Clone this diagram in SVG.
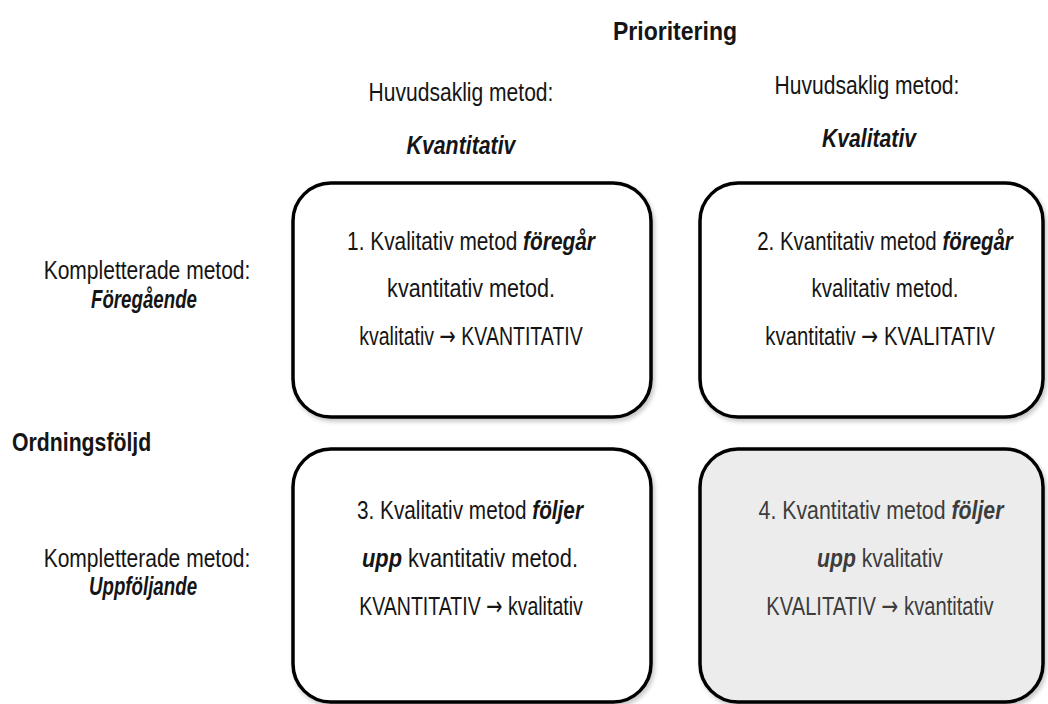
<svg xmlns="http://www.w3.org/2000/svg" width="1048" height="704" viewBox="0 0 1048 704">
  <defs>
    <filter id="shadow" x="-5%" y="-5%" width="112%" height="115%">
      <feDropShadow dx="2" dy="3" stdDeviation="2" flood-color="#000" flood-opacity="0.22"/>
    </filter>
  </defs>
  <style>
    /* condensed look: Arial-metric face narrowed per line with a horizontal scale */
    text { font-family: "Liberation Sans", Arial, sans-serif; font-size: 26px; fill: #151515; }
    .mid { text-anchor: middle; }
    .head { font-weight: bold; }
    .em { font-weight: bold; font-style: italic; }
    .arr { font-family: "DejaVu Sans", sans-serif; font-weight: normal; font-style: normal; }
    .box { fill: #fff; stroke: #000; stroke-width: 3.5; filter: url(#shadow); }
    .box.shaded { fill: #ececec; }
    .grey { fill: #3c3c3c; }
  </style>

  <rect width="1048" height="704" fill="#fff"/>

  <!-- axis headings -->
  <g id="axis-labels">
    <text class="head mid" transform="translate(675 39.5) scale(0.885 1)">Prioritering</text>
    <text class="head" transform="translate(12 450.5) scale(0.817 1)">Ordningsföljd</text>
  </g>

  <!-- column headings -->
  <g id="col-kvantitativ">
    <text class="mid" transform="translate(461 100.5) scale(0.81 1)">Huvudsaklig metod:</text>
    <text class="em mid" transform="translate(461 153.5) scale(0.82 1)">Kvantitativ</text>
  </g>
  <g id="col-kvalitativ">
    <text class="mid" transform="translate(867 93.5) scale(0.81 1)">Huvudsaklig metod:</text>
    <text class="em mid" transform="translate(869 146.5) scale(0.814 1)">Kvalitativ</text>
  </g>

  <!-- row headings -->
  <g id="row-foregaende">
    <text class="mid" transform="translate(147 278.5) scale(0.809 1)">Kompletterade metod:</text>
    <text class="em mid" transform="translate(144 307.5) scale(0.72 1)">Föregående</text>
  </g>
  <g id="row-uppfoljande">
    <text class="mid" transform="translate(147 566.5) scale(0.809 1)">Kompletterade metod:</text>
    <text class="em mid" transform="translate(143 594.5) scale(0.72 1)">Uppföljande</text>
  </g>

  <!-- quadrant 1 -->
  <g id="cell-1">
    <rect class="box" x="293" y="183" width="358" height="234" rx="38"/>
    <text class="mid" transform="translate(471 249.5) scale(0.802 1)">1. Kvalitativ metod <tspan class="em">föregår</tspan></text>
    <text class="mid" transform="translate(471 296.5) scale(0.83 1)">kvantitativ metod.</text>
    <text class="mid" transform="translate(471 344.5) scale(0.751 1)">kvalitativ <tspan class="arr">→</tspan> KVANTITATIV</text>
  </g>

  <!-- quadrant 2 -->
  <g id="cell-2">
    <rect class="box" x="700" y="183" width="343" height="234" rx="38"/>
    <text class="mid" transform="translate(885 249.5) scale(0.787 1)">2. Kvantitativ metod <tspan class="em">föregår</tspan></text>
    <text class="mid" transform="translate(885 296.5) scale(0.789 1)">kvalitativ metod.</text>
    <text class="mid" transform="translate(880 344.5) scale(0.782 1)">kvantitativ <tspan class="arr">→</tspan> KVALITATIV</text>
  </g>

  <!-- quadrant 3 -->
  <g id="cell-3">
    <rect class="box" x="293" y="449" width="358" height="253" rx="38"/>
    <text class="mid" transform="translate(470 518.5) scale(0.798 1)">3. Kvalitativ metod <tspan class="em">följer</tspan></text>
    <text class="mid" transform="translate(470 566.5) scale(0.84 1)"><tspan class="em">upp</tspan> kvantitativ metod.</text>
    <text class="mid" transform="translate(471 614.5) scale(0.751 1)">KVANTITATIV <tspan class="arr">→</tspan> kvalitativ</text>
  </g>

  <!-- quadrant 4 -->
  <g id="cell-4">
    <rect class="box shaded" x="700" y="449" width="343" height="253" rx="38"/>
    <text class="mid grey" transform="translate(881 518.5) scale(0.819 1)">4. Kvantitativ metod <tspan class="em">följer</tspan></text>
    <text class="mid grey" transform="translate(880 566.5) scale(0.815 1)"><tspan class="em">upp</tspan> kvalitativ</text>
    <text class="mid grey" transform="translate(880 614.5) scale(0.775 1)">KVALITATIV <tspan class="arr">→</tspan> kvantitativ</text>
  </g>

  <!-- no connectors in this matrix -->
  <g id="connectors"/>
</svg>
